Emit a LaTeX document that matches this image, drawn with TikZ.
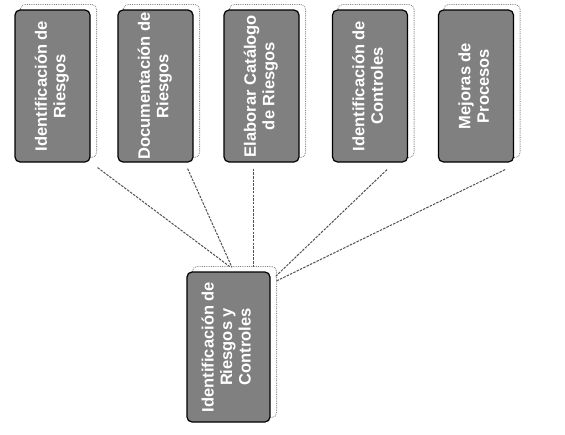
\documentclass[tikz,border=0pt]{standalone}
\usepackage{fontspec}
\setmainfont{Liberation Sans}
\usetikzlibrary{calc,backgrounds}
\definecolor{boxgray}{RGB}{128,128,128}
\definecolor{linegray}{RGB}{80,80,80}
\begin{document}
\begin{tikzpicture}[x=1pt,y=-1pt,
  box/.style={draw=black, line width=1.2pt, fill=boxgray, rounded corners=5pt,
    inner sep=0pt, text=white, font=\fontsize{16.5}{18.5}\selectfont\bfseries},
  topbox/.style={box, minimum width=75pt, minimum height=152pt},
  botbox/.style={box, minimum width=83pt, minimum height=150pt},
  shadowline/.style={draw=black!50, densely dotted, line width=0.8pt, rounded corners=5pt},
  conn/.style={draw=linegray, line width=1pt, dash pattern=on 2.5pt off 1.2pt}]
\useasboundingbox (0,0) rectangle (565,434);
\node[topbox] (b1) at (52.5,86) {\rotatebox{90}{\begin{tabular}{@{}c@{}}Identificación de\\Riesgos\end{tabular}}};
\node[topbox] (b2) at (155.5,86) {\rotatebox{90}{\begin{tabular}{@{}c@{}}Documentación de\\Riesgos\end{tabular}}};
\node[topbox] (b3) at (261.5,86) {\rotatebox{90}{\begin{tabular}{@{}c@{}}Elaborar Catálogo\\de Riesgos\end{tabular}}};
\node[topbox] (b4) at (370,86) {\rotatebox{90}{\begin{tabular}{@{}c@{}}Identificación de\\Controles\end{tabular}}};
\node[topbox] (b5) at (476,86) {\rotatebox{90}{\begin{tabular}{@{}c@{}}Mejoras de\\Procesos\end{tabular}}};
\node[botbox] (bc) at (228.5,347) {\rotatebox{90}{\begin{tabular}{@{}c@{}}Identificación de\\Riesgos y\\Controles\end{tabular}}};
\begin{pgfonlayer}{background}
  \foreach \b in {b1,b2,b3,b4,b5,bc}
    \draw[shadowline] ($(\b.north west)+(6,-5)$) rectangle ($(\b.south east)+(6,-5)$);
\end{pgfonlayer}
\draw[conn] ($(b1.south east)+(7,5)$) -- ($(bc.north)+(1,-5)$);
\draw[conn] ($(b2.south east)+(-6,6)$) -- ($(bc.north)+(3.5,-4)$);
\draw[conn] ($(b3.south)+(-8.5,6)$) -- ($(bc.north)+(24.5,-4)$);
\draw[conn] ($(b4.south)+(17,7)$) -- ($(bc.north east)+(5,5)$);
\draw[conn] ($(b5.south east)+(-9,7)$) -- ($(bc.north east)+(5,10)$);
\end{tikzpicture}
\end{document}
